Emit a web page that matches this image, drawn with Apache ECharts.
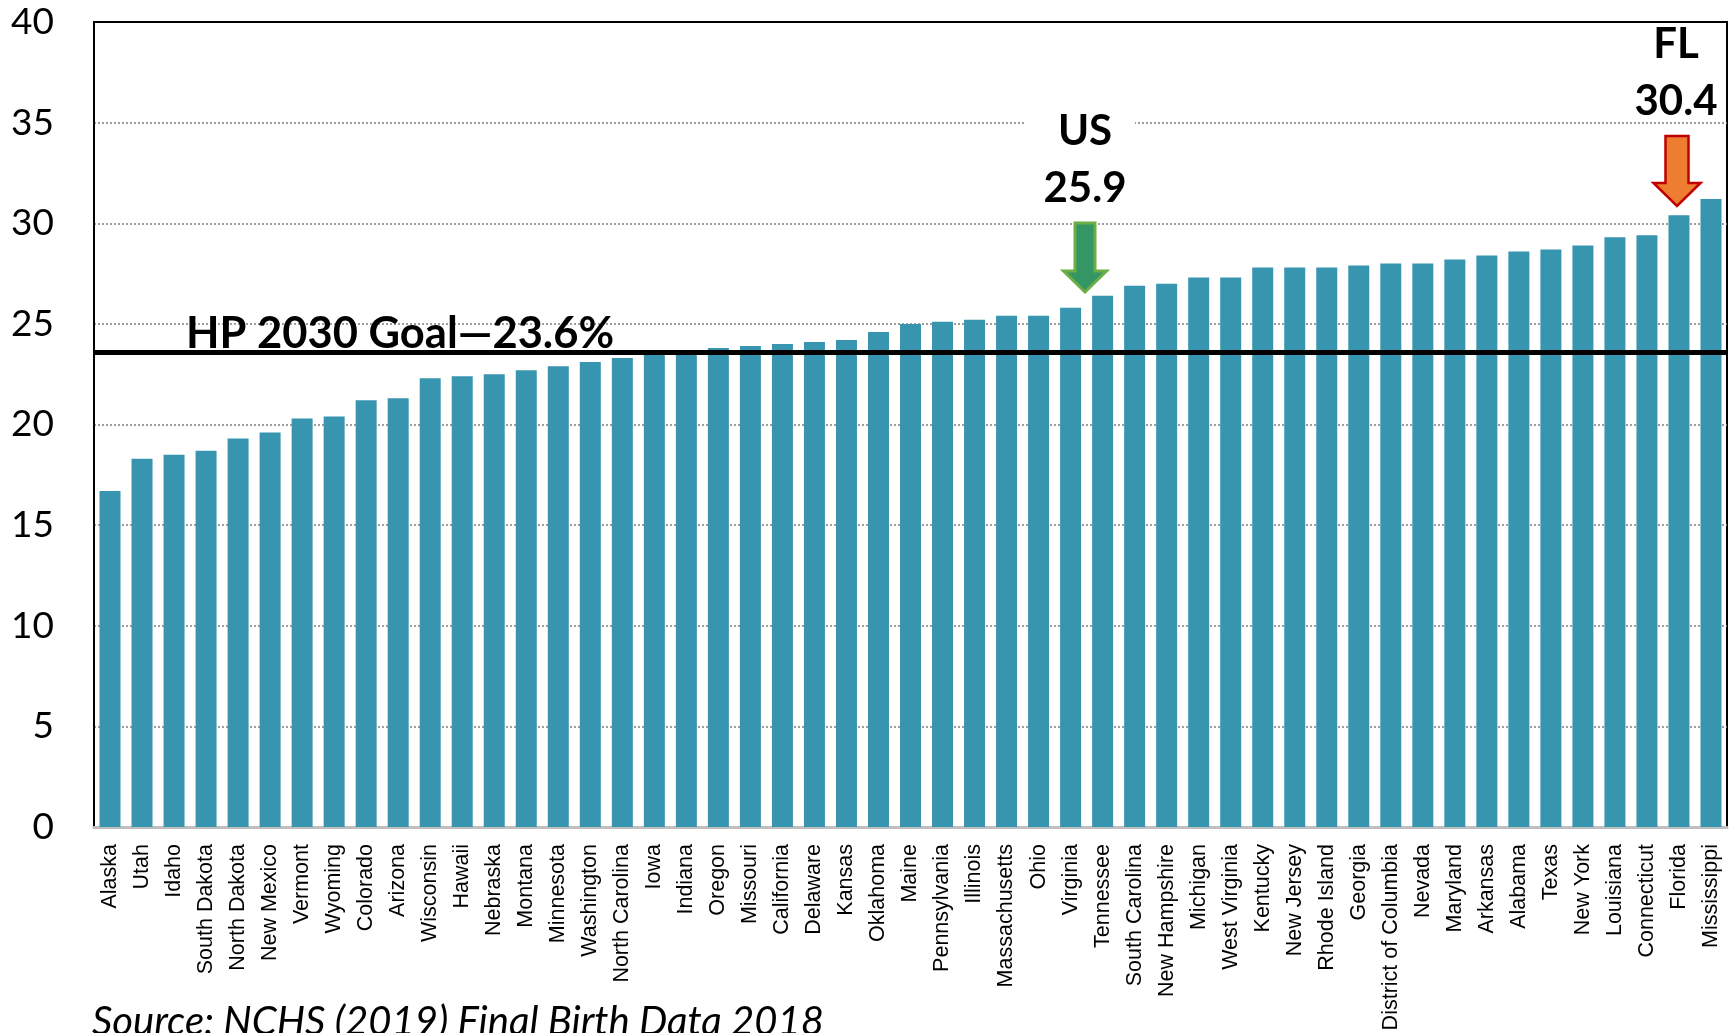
<!DOCTYPE html>
<html><head><meta charset="utf-8">
<script src="https://cdn.jsdelivr.net/npm/echarts@6/dist/echarts.min.js"></script>
<style>html,body{margin:0;padding:0;background:#fff}#c{width:1736px;height:1033px}</style>
</head><body><div id="c"></div>
<script>
const states = ["Alaska","Utah","Idaho","South Dakota","North Dakota","New Mexico","Vermont","Wyoming","Colorado","Arizona","Wisconsin","Hawaii","Nebraska","Montana","Minnesota","Washington","North Carolina","Iowa","Indiana","Oregon","Missouri","California","Delaware","Kansas","Oklahoma","Maine","Pennsylvania","Illinois","Massachusetts","Ohio","Virginia","Tennessee","South Carolina","New Hampshire","Michigan","West Virginia","Kentucky","New Jersey","Rhode Island","Georgia","District of Columbia","Nevada","Maryland","Arkansas","Alabama","Texas","New York","Louisiana","Connecticut","Florida","Mississippi"];
const rates = [16.7,18.3,18.5,18.7,19.3,19.6,20.3,20.4,21.2,21.3,22.3,22.4,22.5,22.7,22.9,23.1,23.3,23.5,23.6,23.8,23.9,24.0,24.1,24.2,24.6,25.0,25.1,25.2,25.4,25.4,25.8,26.4,26.9,27.0,27.3,27.3,27.8,27.8,27.8,27.9,28.0,28.0,28.2,28.4,28.6,28.7,28.9,29.3,29.4,30.4,31.2];
const yMin = 0, yMax = 40, yStep = 5;
const goalValue = 23.6;
const goalText = "HP 2030 Goal\u201423.6%";
const usLabel = ["US", "25.9"];
const flLabel = ["FL", "30.4"];
const sourceText = "Source: NCHS (2019) Final Birth Data 2018";

const chart = echarts.init(document.getElementById('c'), null, {renderer:'canvas'});
const bold = {fontFamily:'Lato', fontWeight:'bold', fontSize:42, fill:'#000', textAlign:'center', textVerticalAlign:'middle'};
chart.setOption({
  animation:false,
  backgroundColor:'#fff',
  grid:{left:94, right:9, top:22, bottom:206, outerBoundsMode:'none', containLabel:false, show:true, borderColor:'#000', borderWidth:2, backgroundColor:'transparent'},
  xAxis:{type:'category', data:states,
    axisLine:{show:true, lineStyle:{color:'#bfbfbf', width:3}},
    axisTick:{show:false},
    axisLabel:{rotate:90, interval:0, margin:17, color:'#000', fontSize:21.5, fontFamily:"'Liberation Sans',Arial"}
  },
  yAxis:{type:'value', min:yMin, max:yMax, interval:yStep,
    axisLine:{show:true, lineStyle:{color:'#000', width:2}},
    axisTick:{show:false},
    axisLabel:{color:'#000', fontSize:37, fontFamily:'Lato', margin:40},
    splitLine:{show:true, showMinLine:false, showMaxLine:false, lineStyle:{color:'#7f7f7f', type:[2,2], width:1.5}}
  },
  series:[{type:'bar', data:rates, barWidth:21,
    itemStyle:{color:'#3895b0'},
    markLine:{silent:true, symbol:'none', label:{show:false},
      lineStyle:{color:'#000', width:5, type:'solid'},
      data:[{yAxis:goalValue}]}
  }],
  graphic:[
    {type:'text', x:186, y:334, z:100, style:{text:goalText, fontFamily:'Lato', fontWeight:'bold', fontSize:43.5, fill:'#000', textVerticalAlign:'middle'}},
    {type:'rect', shape:{x:1024, y:100, width:111, height:110}, style:{fill:'#fff'}, z:50},
    {type:'text', x:1085, y:131, z:100, style:Object.assign({}, bold, {text:usLabel[0]})},
    {type:'text', x:1085, y:188, z:100, style:Object.assign({}, bold, {text:usLabel[1]})},
    {type:'polygon', z:100, shape:{points:[[1075,223],[1095,223],[1095,271],[1106.5,271],[1085,292],[1063.5,271],[1075,271]]}, style:{fill:'#349664', stroke:'#6aae45', lineWidth:3}},
    {type:'text', x:1676, y:44, z:100, style:Object.assign({}, bold, {text:flLabel[0]})},
    {type:'text', x:1676, y:101, z:100, style:Object.assign({}, bold, {text:flLabel[1]})},
    {type:'polygon', z:100, shape:{points:[[1665.5,136],[1688.5,136],[1688.5,183],[1700.5,183],[1677,206],[1653.5,183],[1665.5,183]]}, style:{fill:'#ed7d31', stroke:'#c00000', lineWidth:2.5}},
    {type:'text', x:92, y:1022, z:100, style:{text:sourceText, fontFamily:'Lato', fontStyle:'italic', fontSize:40, fill:'#000', textVerticalAlign:'middle'}}
  ]
});
</script>
</body></html>
